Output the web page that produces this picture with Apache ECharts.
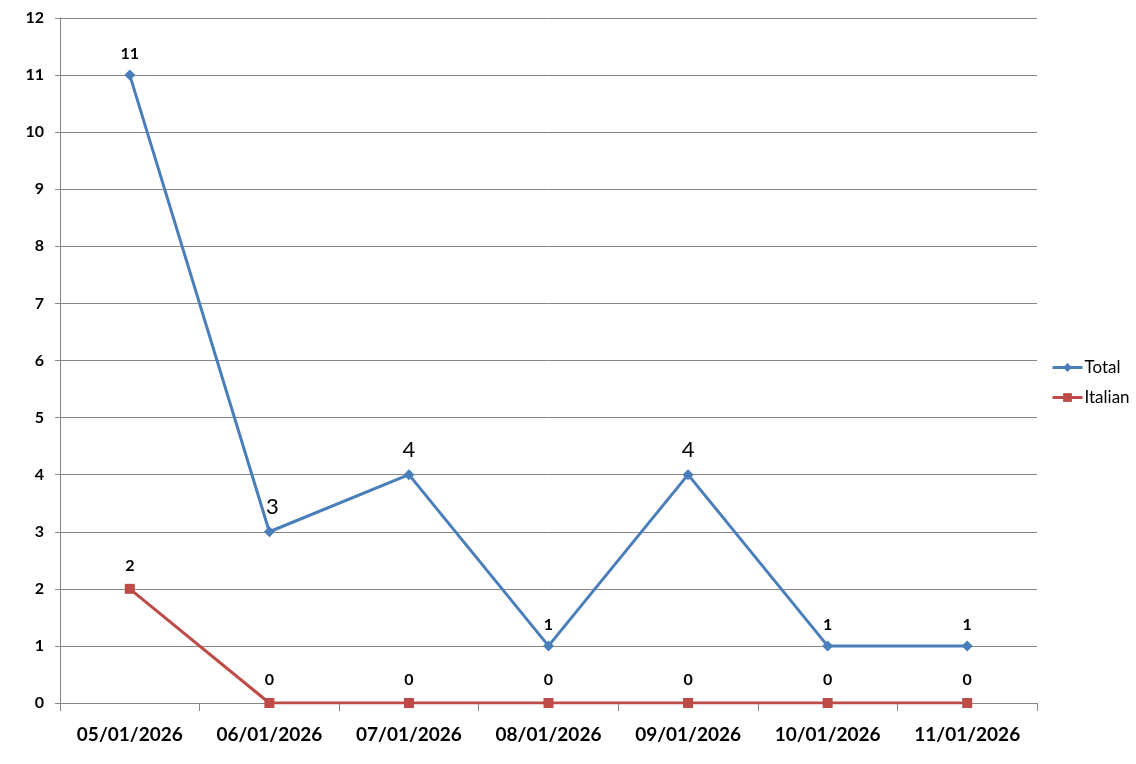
<!DOCTYPE html>
<html><head><meta charset="utf-8">
<script src="https://cdn.jsdelivr.net/npm/echarts@6/dist/echarts.min.js"></script>
<style>html,body{margin:0;padding:0;background:#fff}#c{width:1136px;height:764px}</style>
</head><body><div id="c"></div>
<script>
const categories = ['05/01/2026','06/01/2026','07/01/2026','08/01/2026','09/01/2026','10/01/2026','11/01/2026'];
const totalValues = [11, 3, 4, 1, 4, 1, 1];
const italianValues = [2, 0, 0, 0, 0, 0, 0];
const yTicks = {min: 0, max: 12, interval: 1};

const font = 'Lato, "Open Sans", sans-serif';
const chart = echarts.init(document.getElementById('c'), null, {renderer: 'canvas'});
chart.setOption({
  animation: false,
  backgroundColor: '#fff',
  grid: {left: 60, right: 99, top: 18, bottom: 61, containLabel: false},
  legend: {
    orient: 'vertical', left: 1046, top: 354, itemGap: 13, itemWidth: 30, itemHeight: 11,
    lineStyle: {width: 3},
    textStyle: {fontFamily: font, fontSize: 17, color: '#000', padding: [0, 0, 0, -3]},
    data: ['Total', 'Italian']
  },
  xAxis: {
    type: 'category', data: categories, boundaryGap: true,
    axisLine: {lineStyle: {color: '#868686', width: 1}},
    axisTick: {show: true, length: 8, lineStyle: {color: '#868686'}},
    axisLabel: {fontFamily: font, fontWeight: 'bold', fontSize: 19, color: '#000', margin: 22}
  },
  yAxis: {
    type: 'value', min: yTicks.min, max: yTicks.max, interval: yTicks.interval,
    axisLine: {show: true, lineStyle: {color: '#868686', width: 1}},
    axisTick: {show: true, length: 5, lineStyle: {color: '#868686'}},
    splitLine: {lineStyle: {color: '#868686', width: 1}},
    axisLabel: {fontFamily: font, fontWeight: 'bold', fontSize: 16, color: '#000', margin: 16}
  },
  series: [
    {
      name: 'Total', type: 'line', data: totalValues,
      symbol: 'diamond', symbolSize: 11,
      lineStyle: {color: '#4a7ebb', width: 3},
      itemStyle: {color: '#4a7ebb'},
      label: {
        show: true, position: 'top', distance: 8, color: '#000',
        fontFamily: font, fontWeight: 'bold', fontSize: 16,
        rich: {
          big: {fontFamily: font, fontSize: 22, fontWeight: 'normal', color: '#000'},
          bigR: {fontFamily: font, fontSize: 22, fontWeight: 'normal', color: '#000', padding: [0, 0, 0, 6]}
        },
        formatter: p => p.value === 3 ? '{bigR|3}' : (p.value === 4 ? '{big|4}' : String(p.value))
      },
      z: 3
    },
    {
      name: 'Italian', type: 'line', data: italianValues,
      symbol: 'rect', symbolSize: 10,
      lineStyle: {color: '#be4b48', width: 3},
      itemStyle: {color: '#be4b48'},
      label: {
        show: true, position: 'top', distance: 10, color: '#000',
        fontFamily: font, fontWeight: 'bold', fontSize: 16
      },
      z: 2
    }
  ]
});
</script></body></html>
